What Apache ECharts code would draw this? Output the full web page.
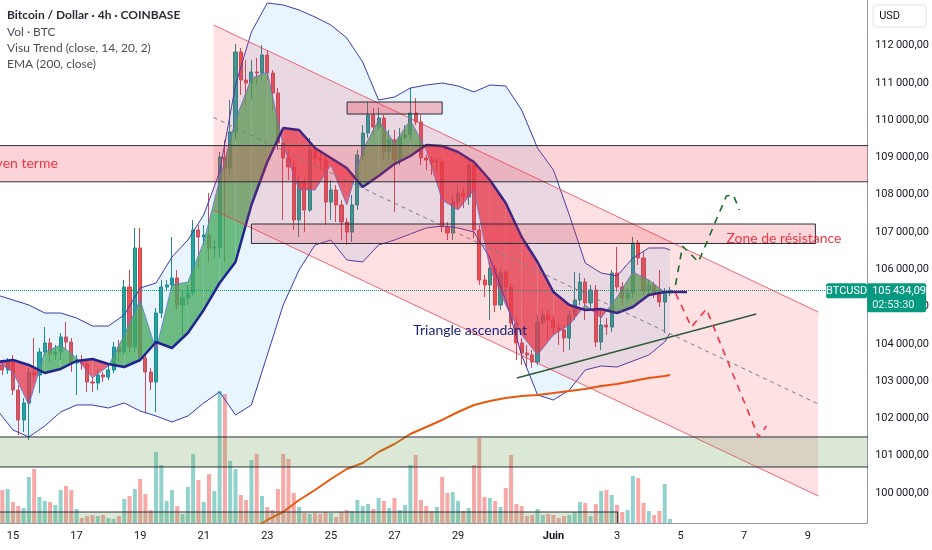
<!DOCTYPE html>
<html><head><meta charset="utf-8">
<script src="https://cdn.jsdelivr.net/npm/echarts@6/dist/echarts.min.js"></script>
<style>html,body{margin:0;padding:0;background:#fff}#c{width:932px;height:550px}</style>
</head><body><div id="c"></div>
<script>
// ---------- DATA (x = day number, May 1 = 1, June 1 = 32) ----------
const candleStartDay = 14.5;          // 14 May 12:00
const candleStepDay = 4 / 24;         // 4h candles
const opens = [103565,103431,103297,103511,102760,101956,102412,103243,103162,103779,
104021,103726,103779,104182,104048,103484,103538,103458,102975,102948,
103162,103109,103297,103913,103779,105523,103913,106569,103618,103243,
102975,104825,105523,105576,105764,105040,105228,105362,107051,106864,
106917,106569,106590,109009,108714,109680,111825,111074,110994,111289,
111262,111745,111262,110726,109385,108982,108741,107320,108339,107588,
109197,108982,108929,107802,108124,107722,107266,106998,107722,109063,
109653,110136,109814,110055,109143,109465,108929,109546,109599,110189,
109948,108982,108929,108875,108890,107132,106971,107802,108044,107936,
108795,107051,105710,105576,106032,105040,105898,105523,104557,104021,
103753,103699,103511,104584,104772,104638,104423,104369,104155,104772,
105174,105657,105094,105442,104048,104503,104450,105898,105523,105228,
105362,106703,106300,105442,105576,105362,105120,105362];
const closes = [103431,103297,103511,102760,101956,102412,103243,103162,103779,104021,
103726,103779,104182,104048,103484,103538,103458,102975,102948,103162,
103109,103297,103913,103779,105523,103913,106569,103618,103243,102975,
104825,105523,105576,105764,105040,105228,105362,107051,106864,106917,
106569,106590,109009,108714,109680,111825,111074,110994,111289,111262,
111745,111262,110726,109385,108982,108741,107320,108339,107588,109197,
108982,108929,107802,108124,107722,107266,106998,107722,109063,109653,
110136,109814,110055,109143,109465,108929,109546,109599,110189,109948,
108982,108929,108875,108890,107132,106971,107802,108044,107936,108795,
107051,105710,105576,106032,105040,105898,105523,104557,104021,103753,
103699,103511,104584,104772,104638,104423,104369,104155,104772,105174,
105657,105094,105442,104048,104503,104450,105898,105523,105228,105362,
106703,106300,105442,105576,105362,105120,105362,105434];
const lows = [103350,103162,103189,102626,101553,101634,101419,102975,102680,103672,
103511,103565,103565,103833,103243,102626,103297,102707,102707,102760,
102975,103028,103216,103511,103699,103779,103779,103511,102143,102760,
102170,104691,105442,105442,104906,104235,105040,105281,106032,106649,
106193,106300,106300,106193,108526,109465,110672,110404,110538,110940,
111074,111074,110270,109197,107320,108392,107051,106864,106998,107534,
108795,108661,107185,107320,107266,106783,106649,106730,107588,108929,
109519,109599,109733,108929,108929,107534,108795,109465,109465,109867,
108795,108661,108526,108607,106998,106783,106783,107668,107641,107722,
106837,105576,105254,104638,104852,104906,105308,104423,103565,103431,
103377,103350,103431,104503,104101,104235,103967,103779,103833,104638,
105040,104638,104906,103913,103833,104235,104316,105389,105040,105120,
105228,106113,105308,105308,105228,104986,104289,105281];
const highs = [103699,103565,103618,103699,102894,102546,103350,104155,103887,104450,
104155,103967,104289,104584,104155,103699,103699,103565,103082,103297,
103243,103431,104048,104101,105710,105979,107105,107105,103699,103350,
104959,105710,105710,106864,105979,105442,105576,107320,107185,107185,
108044,106783,109143,109465,110538,112040,111933,111611,111611,111664,
112013,111879,111343,110860,109465,109197,108929,108526,108446,109519,
109331,109197,109063,108392,108258,107856,107373,107990,109197,109867,
110484,110323,110323,110136,109733,109733,109787,109867,110860,110592,
110136,109063,109036,108982,108982,107266,107990,108258,108178,108929,
108929,107185,105844,106193,106113,106032,105979,105630,104691,104155,
103967,103833,104772,104906,104906,104772,104584,104503,104906,105925,
105898,105764,105576,105576,104906,104691,105979,106595,105657,105496,
106864,106783,106461,105710,105657,105979,105496,105523];
const volumes = [1200,1320,1360,840,680,600,1840,2160,1040,880,
840,720,1320,1480,1320,560,200,280,320,280,
320,200,160,280,960,1080,1360,1760,1160,520,
2840,2320,880,1320,680,360,1440,2760,1720,840,
1960,1280,5280,5160,2480,2160,1120,920,2520,2760,
1080,640,520,1360,2760,2560,1200,640,400,360,
400,360,440,400,240,440,520,480,920,680,
760,560,1000,880,600,1000,520,720,2320,2720,
920,680,480,640,1840,1200,1240,880,480,600,
2320,3400,1040,1000,880,640,1400,2720,760,680,
280,320,560,320,360,320,200,280,320,440,
840,800,280,760,1280,1320,1120,720,440,520,
1880,1800,800,480,320,480,1560,160];

// Indicator samples (every 12h)
const indDays = [14.5,15,15.5,16,16.5,17,17.5,18,18.5,19,19.5,20,20.5,21,21.5,22,22.5,23,23.5,24,24.5,25,25.5,26,26.5,27,27.5,28,28.5,29,29.5,30,30.5,31,31.5,32,32.5,33,33.5,34,34.5,35,35.5,35.667];
const bbUpper = [105308,105174,105040,104825,104825,104691,104477,104477,104772,105496,105630,106327,106783,107454,108607,110940,112362,113140,113086,112952,112764,112550,112201,111557,110538,110618,110860,110940,110994,110914,110753,110940,110914,110270,109251,108661,107454,106166,105898,105818,106301,106569,106569,106515];
const bbLower = [102224,101687,101500,101795,102170,102358,102358,102277,102412,102197,102063,101902,102063,102412,102707,102090,102358,103699,105040,105979,106649,106783,106247,106193,106649,106783,106944,107105,107159,107105,106998,106301,105174,103699,102626,102492,102760,103297,103404,103377,103538,103699,104048,104289];
const trendSlow = [103511,103565,103431,103216,103324,103538,103592,103458,103377,103565,104048,103887,104289,104906,105630,106193,107722,108875,109787,109734,109251,108982,108714,108205,108500,108821,109036,109331,109304,109143,108875,108393,107775,106864,106193,105389,105040,104906,104932,104825,104986,105308,105389,105389];
const trendFast = [103511,103243,102358,103779,103967,103618,103082,103404,104235,105174,103833,105576,105657,106730,108393,110002,111128,111289,109331,108124,108124,108795,107722,109197,110002,109385,110002,109197,107856,107588,108124,106032,105040,104235,103699,104235,104503,105040,104691,105255,105925,105710,105389,105389];
const trendSlowTailDays = [35.667, 36.2];
const trendSlowTail = [105389, 105389];
const emaDays = [22,22.5,23,23.5,24,24.5,25,25.5,26,26.5,27,27.5,28,28.5,29,29.5,30,30.5,31,31.5,32,32.5,33,33.5,34,34.5,35,35.5,35.667];
const ema200 = [98740,99005,99274,99488,99810,100078,100373,100642,100803,101097,101312,101580,101768,101956,102170,102358,102465,102546,102599,102626,102680,102733,102787,102868,102921,103002,103082,103136,103163];

// Axis ticks
const tickDays = [15,17,19,21,23,25,27,29,32,34,36,38,40];
const tickNames = ['15','17','19','21','23','25','27','29','Juin','3','5','7','9'];
const priceTicks = [100000,101000,102000,103000,104000,105000,106000,107000,108000,109000,110000,111000,112000];
const lastPrice = 105434.09;

// Drawings (day, price)
const channelUpper = [[21.31, 112550], [40.33, 104852]];
const channelLower = [[21.31, 107588], [40.33, 99917]];
const resLongTerm = [10, 45, 108344, 109315];
const resZone = [22.50, 40.24, 106690, 107212];
const topBox = [25.51, 28.50, 110162, 110484];
const supportZone = [10, 45, 100695, 101500];
const lowBox = [10, 34.02, 98800, 99488];
const supportLine = [[30.85, 103082], [38.38, 104798]];
const bullDays = [35.84, 36.06, 36.56, 37.44, 37.66, 37.85];
const bullPrices = [105576, 106622, 106193, 107963, 107990, 107588];
const bearDays = [35.84, 36.34, 36.81, 38.45, 38.70];
const bearPrices = [105362, 104450, 104932, 101500, 101795];
const noteTriangle = [27.59, 104369];
const noteZone = [37.44, 106837];
const noteLongTerm = [16.41, 108848];

// ---------- CHART ----------
const AXF = 'Roboto, "Noto Sans", sans-serif';
const TXF = 'Lato, "Noto Sans", sans-serif';
const candleDays = opens.map((_, i) => candleStartDay + i * candleStepDay);
const candleData = opens.map((o, i) => [candleDays[i], o, closes[i], lows[i], highs[i]]);
const volData = volumes.map((v, i) => [candleDays[i], v]);

function fmtPrice(v) {
  const s = Math.round(v).toString();
  return s.slice(0, -3) + '\u2009' + s.slice(-3) + ',00';
}

const chart = echarts.init(document.getElementById('c'));

function polyEl(pts, fill, z2) {
  return { type: 'polygon', shape: { points: pts }, style: { fill: fill, stroke: null }, z2: z2 || 0 };
}

function bbFillRender(params, api) {
  if (params.dataIndex !== 0) return null;
  const pts = [];
  for (let k = 0; k < indDays.length; k++) pts.push(api.coord([indDays[k], bbUpper[k]]));
  for (let k = indDays.length - 1; k >= 0; k--) pts.push(api.coord([indDays[k], bbLower[k]]));
  return polyEl(pts, 'rgba(33,150,243,0.10)');
}

function trendFillRender(params, api) {
  if (params.dataIndex !== 0) return null;
  const up = 'rgba(72,170,95,0.78)', dn = 'rgba(232,60,78,0.78)';
  const ch = [];
  for (let k = 0; k < indDays.length - 1; k++) {
    const a1 = api.coord([indDays[k], trendFast[k]]), b1 = api.coord([indDays[k], trendSlow[k]]);
    const a2 = api.coord([indDays[k + 1], trendFast[k + 1]]), b2 = api.coord([indDays[k + 1], trendSlow[k + 1]]);
    const d1 = trendFast[k] - trendSlow[k], d2 = trendFast[k + 1] - trendSlow[k + 1];
    if (d1 * d2 >= 0) {
      if (d1 === 0 && d2 === 0) continue;
      ch.push(polyEl([a1, a2, b2, b1], (d1 + d2) >= 0 ? up : dn));
    } else {
      const f = d1 / (d1 - d2);
      const m = [a1[0] + f * (a2[0] - a1[0]), a1[1] + f * (a2[1] - a1[1])];
      ch.push(polyEl([a1, m, b1], d1 > 0 ? up : dn));
      ch.push(polyEl([m, a2, b2], d2 > 0 ? up : dn));
    }
  }
  return { type: 'group', children: ch };
}

function rectEl(api, r, fill) {
  const p1 = api.coord([r[0], r[3]]), p2 = api.coord([r[1], r[2]]);
  return { type: 'rect', shape: { x: p1[0], y: p1[1], width: p2[0] - p1[0], height: p2[1] - p1[1] },
    style: { fill: fill, stroke: '#2a2e39', lineWidth: 1 } };
}

function drawingsRender(params, api) {
  if (params.dataIndex !== 0) return null;
  const ch = [];
  const u1 = api.coord(channelUpper[0]), u2 = api.coord(channelUpper[1]);
  const l1 = api.coord(channelLower[0]), l2 = api.coord(channelLower[1]);
  ch.push(polyEl([u1, u2, l2, l1], 'rgba(242,54,69,0.15)'));
  ch.push({ type: 'line', shape: { x1: u1[0], y1: u1[1], x2: u2[0], y2: u2[1] }, style: { stroke: 'rgba(242,54,69,0.75)', lineWidth: 1 } });
  ch.push({ type: 'line', shape: { x1: l1[0], y1: l1[1], x2: l2[0], y2: l2[1] }, style: { stroke: 'rgba(242,54,69,0.75)', lineWidth: 1 } });
  const mid1 = [(u1[0] + l1[0]) / 2, (u1[1] + l1[1]) / 2], mid2 = [(u2[0] + l2[0]) / 2, (u2[1] + l2[1]) / 2];
  ch.push({ type: 'line', shape: { x1: mid1[0], y1: mid1[1], x2: mid2[0], y2: mid2[1] }, style: { stroke: '#7a7d86', lineWidth: 1, lineDash: [4, 4] } });
  ch.push(rectEl(api, resLongTerm, 'rgba(242,54,69,0.22)'));
  ch.push(rectEl(api, resZone, 'rgba(242,54,69,0.2)'));
  ch.push(rectEl(api, topBox, 'rgba(242,54,69,0.3)'));
  ch.push(rectEl(api, supportZone, 'rgba(110,165,90,0.25)'));
  ch.push(rectEl(api, lowBox, 'rgba(110,165,90,0.25)'));
  return { type: 'group', children: ch };
}

function notesRender(params, api) {
  if (params.dataIndex !== 0) return null;
  const t = api.coord(noteTriangle), z = api.coord(noteZone), lt = api.coord(noteLongTerm);
  return { type: 'group', children: [
    { type: 'text', style: { text: 'Triangle ascendant', x: t[0], y: t[1], fill: '#1f237a', font: '14px ' + TXF, align: 'left', verticalAlign: 'middle' } },
    { type: 'text', style: { text: 'Zone de résistance', x: z[0], y: z[1], fill: '#f23645', font: '14px ' + TXF, align: 'left', verticalAlign: 'middle' } },
    { type: 'text', style: { text: 'Résistance moyen terme', x: lt[0], y: lt[1], fill: '#f23645', font: '14px ' + TXF, align: 'right', verticalAlign: 'middle' } }
  ] };
}

const lineBase = { type: 'line', showSymbol: false, symbol: 'none', silent: true, animation: false };

chart.setOption({
  animation: false,
  backgroundColor: '#ffffff',
  grid: { left: 0, right: 63, top: 0, bottom: 27 },
  xAxis: {
    type: 'value', min: 14.592, max: 41.867,
    axisLine: { show: true, lineStyle: { color: '#9598a1' } },
    axisTick: { show: false }, splitLine: { show: false },
    axisLabel: {
      customValues: tickDays, margin: 8, color: '#131722', fontSize: 11, fontFamily: AXF,
      formatter: v => { const k = tickDays.indexOf(Math.round(v)); const n = k >= 0 ? tickNames[k] : ''; return n === 'Juin' ? '{b|Juin}' : n; },
      rich: { b: { fontWeight: 'bold', fontSize: 11, fontFamily: AXF, color: '#131722' } }
    }
  },
  yAxis: [{
    type: 'value', position: 'right', min: 99193, max: 113220, scale: true,
    axisLine: { show: true, lineStyle: { color: '#9598a1' } },
    axisTick: { show: false }, splitLine: { show: false },
    axisLabel: { customValues: priceTicks, margin: 8, color: '#131722', fontSize: 11, fontFamily: AXF, formatter: fmtPrice }
  }, {
    type: 'value', min: 0, max: 20920, show: false
  }],
  series: [
    { type: 'bar', yAxisIndex: 1, data: volData, barWidth: 4, z: 1, silent: true,
      itemStyle: { color: p => closes[p.dataIndex] >= opens[p.dataIndex] ? 'rgba(38,166,154,0.5)' : 'rgba(239,83,80,0.5)' } },
    { type: 'candlestick', data: candleData, encode: { x: 0, y: [1, 2, 3, 4] }, barWidth: 3.6, z: 2, silent: true,
      itemStyle: { color: '#26a69a', color0: '#ef5350', borderColor: '#1f8a80', borderColor0: '#d8434f', borderWidth: 1 },
      markLine: { silent: true, symbol: 'none', label: { show: false },
        lineStyle: { color: '#089981', type: 'dotted', width: 1 }, data: [{ yAxis: lastPrice }] } },
    { type: 'custom', renderItem: bbFillRender, data: [[indDays[0], bbUpper[0]]], z: 3, silent: true, clip: true },
    { type: 'custom', renderItem: trendFillRender, data: [[indDays[0], trendFast[0]]], z: 4, silent: true, clip: true },
    Object.assign({}, lineBase, { data: indDays.map((d, k) => [d, bbUpper[k]]), z: 5, lineStyle: { color: '#3b3bb0', width: 1 } }),
    Object.assign({}, lineBase, { data: indDays.map((d, k) => [d, bbLower[k]]), z: 5, lineStyle: { color: '#3b3bb0', width: 1 } }),
    Object.assign({}, lineBase, { data: indDays.map((d, k) => [d, trendFast[k]]), z: 5, lineStyle: { color: 'rgba(90,120,220,0.8)', width: 1 } }),
    Object.assign({}, lineBase, { data: indDays.map((d, k) => [d, trendSlow[k]]), z: 5, lineStyle: { color: '#1f2590', width: 2.5 } }),
    Object.assign({}, lineBase, { data: trendSlowTailDays.map((d, k) => [d, trendSlowTail[k]]), z: 5, lineStyle: { color: '#1f2590', width: 2.5 } }),
    Object.assign({}, lineBase, { data: emaDays.map((d, k) => [d, ema200[k]]), z: 5, lineStyle: { color: '#e8590c', width: 2 } }),
    { type: 'custom', renderItem: drawingsRender, data: [[channelUpper[0][0], channelUpper[0][1]]], z: 6, silent: true, clip: true },
    Object.assign({}, lineBase, { data: supportLine, z: 7, lineStyle: { color: '#2f5d3a', width: 1.5 } }),
    Object.assign({}, lineBase, { data: bullDays.map((d, k) => [d, bullPrices[k]]), z: 7, lineStyle: { color: '#1b6b2a', width: 1.6, type: [7, 6] } }),
    Object.assign({}, lineBase, { data: bearDays.map((d, k) => [d, bearPrices[k]]), z: 7, lineStyle: { color: '#f23645', width: 1.6, type: [7, 6] } }),
    { type: 'custom', renderItem: notesRender, data: [[noteZone[0], noteZone[1]]], z: 8, silent: true, clip: false }
  ]
});

const py = chart.convertToPixel({ yAxisIndex: 0 }, lastPrice);
const axX = chart.convertToPixel({ xAxisIndex: 0 }, 41.867);
chart.setOption({
  graphic: [
    { type: 'text', left: 7, top: 9, style: { text: 'Bitcoin / Dollar · 4h · COINBASE', fill: '#2a2e39', font: 'bold 12px ' + TXF } },
    { type: 'text', left: 7, top: 26, style: { text: 'Vol · BTC', fill: '#4a4e59', font: '12px ' + TXF } },
    { type: 'text', left: 7, top: 42, style: { text: 'Visu Trend (close, 14, 20, 2)', fill: '#4a4e59', font: '12px ' + TXF } },
    { type: 'text', left: 7, top: 58, style: { text: 'EMA (200, close)', fill: '#4a4e59', font: '12px ' + TXF } },
    { type: 'rect', shape: { x: axX + 6, y: 5, width: 53, height: 22, r: 3 }, style: { fill: '#fff', stroke: '#e0e3eb', lineWidth: 1 }, z: 100 },
    { type: 'text', x: axX + 12, y: 16, style: { text: 'USD', fill: '#131722', font: '11px ' + AXF, verticalAlign: 'middle' }, z: 101 },
    { type: 'rect', shape: { x: axX - 41, y: py - 7, width: 41, height: 15, r: 2 }, style: { fill: '#089981' }, z: 100 },
    { type: 'text', x: axX - 20.5, y: py + 0.5, style: { text: 'BTCUSD', fill: '#fff', font: '11px ' + AXF, align: 'center', verticalAlign: 'middle' }, z: 101 },
    { type: 'rect', shape: { x: axX, y: py - 7, width: 59, height: 29, r: 2 }, style: { fill: '#089981' }, z: 100 },
    { type: 'text', x: axX + 5, y: py + 1, style: { text: fmtPrice(105434).replace(',00', ',09'), fill: '#fff', font: '11px ' + AXF, verticalAlign: 'middle' }, z: 101 },
    { type: 'text', x: axX + 5, y: py + 15, style: { text: '02:53:30', fill: '#e6f5f2', font: '11px ' + AXF, verticalAlign: 'middle' }, z: 101 }
  ]
});
</script>
</body></html>
